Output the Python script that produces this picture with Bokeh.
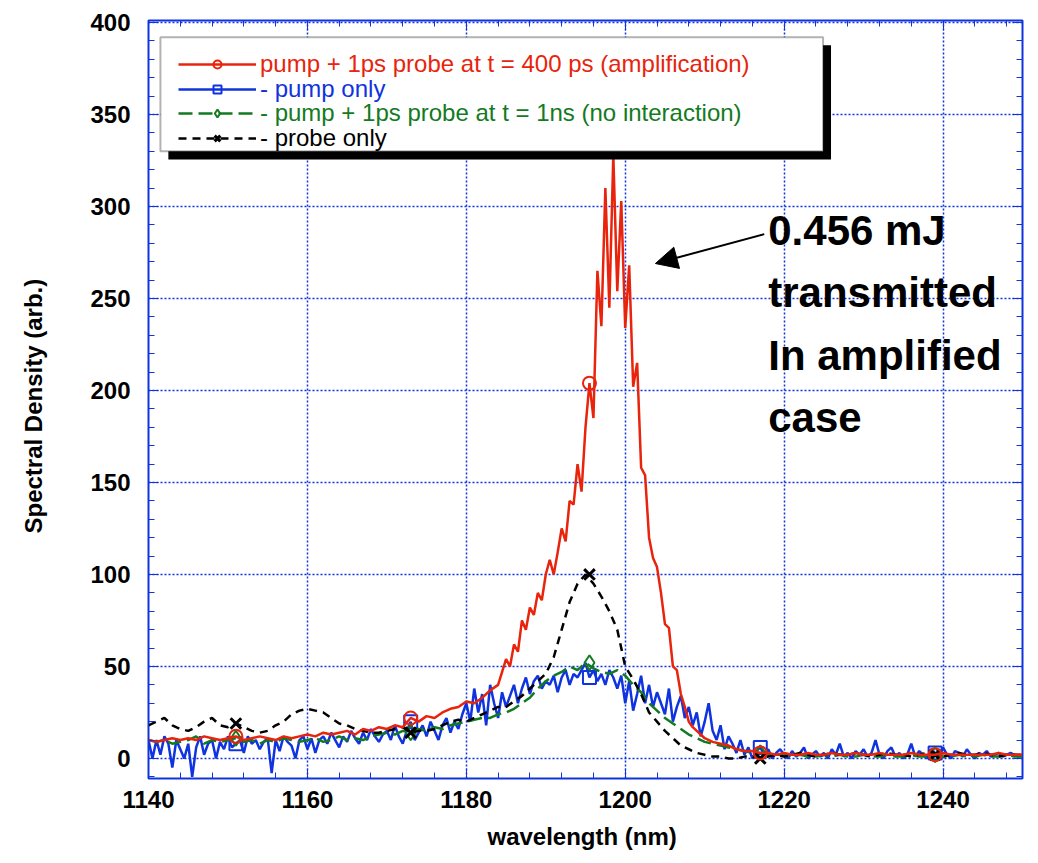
from bokeh.plotting import figure
from bokeh.models import (Range1d, Legend, LegendItem, BoxAnnotation, Label, Arrow,
                          NormalHead, SingleIntervalTicker, LinearAxis)
from bokeh.embed import file_html
from bokeh.resources import INLINE

# ---- data ----
red_x = list(range(1140, 1185)) + [1185 + 0.5 * i for i in range(51)] + list(range(1211, 1251))
red_y = [10, 9, 10, 11, 10, 11, 10, 12, 11, 10,
         11, 12, 10, 11, 12, 11, 10, 12, 11, 12,
         13, 12, 14, 13, 14, 15, 13, 16, 15, 17,
         16, 18, 17, 22, 20, 23, 22, 25, 27, 28,
         31, 30, 33, 37, 40,
         # 1185 .. 1210 step 0.5
         54, 50, 62, 58, 75, 70, 82, 78, 90, 86, 100, 108, 100, 112, 125, 118, 140, 138, 160, 145,
         180, 204, 185, 265, 235, 310, 245, 328, 254, 303, 234, 268, 202, 215, 158, 154, 120, 109, 104, 90,
         73, 71, 50, 48, 35, 28, 20, 17, 15, 13, 11,
         # 1211 .. 1250
         9, 8, 7, 5, 4, 4, 3, 3, 2, 3, 2, 2, 3, 2, 2, 3, 2, 2, 3, 2,
         2, 3, 2, 2, 2, 3, 2, 2, 2, 3, 2, 2, 2, 2, 2, 2, 3, 2, 2, 2]
blue_x = [1140 + 0.5 * i for i in range(221)]
blue_y = [10, 0, 10, 2, 12, 8, -5, 10, 5, 0, 8, -10, 6, 12, 2, 8, 10, 0, 9, 5,
          12, 6, 8, 10, 3, 12, 8, 10, 5, 9, 11, -8, 10, 4, 12, 9, 7, 0, 10, 12,
          5, 11, 3, 10, 12, 8, 14, 10, 6, 12, 9, 15, 11, 8, 14, 10, 16, 12, 9, 13,
          15, 10, 18, 12, 8, 15, 20, 10, 14, 18, 12, 20, 15, 10, 18, 22, 14, 20, 16, 24,
          # 1180 .. 1195
          30, 20, 38, 25, 35, 18, 40, 30, 22, 36, 28, 34, 40, 30, 38, 44, 35, 42, 45, 38,
          42, 40, 45, 36, 44, 48, 40, 46, 44, 48, 52,
          # 1195.5 .. 1210
          44, 48, 42, 46, 40, 48, 44, 38, 45, 30, 42, 26, 35, 45, 30, 40, 28, 36, 30, 24,
          38, 20, 28, 34, 22, 28, 18, 25, 12,
          # 1210.5 .. 1220
          20, 30, 15, 10, 18, 5, 12, 8, 3, 10, 2, 6, 0, 4, 6, 2, 5, 0, 3,
          # 1220.5 .. 1250
          5, 2, 0, 4, 1, 3, 6, 0, 2, 4, 1, 3, 0, 5, 2, 8, 1, 3, 0, 4,
          2, 5, 1, 3, 10, 2, 0, 4, 6, 1, 3, 0, 2, 8, 1, 4, 2, 0, 5, 3,
          1, 6, 2, 0, 4, 3, 1, 5, 2, 0, 3, 2, 4, 1, 2, 3, 1, 2, 3, 2, 1, 2]
green_x = list(range(1140, 1251))
green_y = [10, 9, 10, 8, 9, 10, 12, 8, 10, 9, 10, 11, 9, 10, 8, 10, 9, 11, 10, 9,
           10, 11, 9, 10, 12, 10, 11, 10, 12, 13, 14, 13, 15, 14, 16, 15, 17, 16, 18, 19,
           20, 21, 22, 22, 24, 25, 27, 30, 33, 38, 42, 45, 47, 50, 48, 52, 49, 47, 46, 48,
           45, 40, 36, 30, 26, 22, 19, 16, 13, 11, 9, 8, 7, 6, 5, 4, 3, 3, 2, 2,
           2, 1, 2, 1, 1, 2, 1, 2, 1, 1, 2, 1, 1, 2, 1, 1, 2, 1, 1, 2,
           1, 1, 2, 1, 1, 2, 1, 1, 2, 1, 1]
black_x = list(range(1140, 1251))
black_y = [18, 20, 22, 18, 16, 15, 17, 20, 22, 18, 17, 19, 17, 15, 14, 15, 18, 20, 24, 26,
           27, 26, 25, 22, 19, 18, 16, 15, 14, 14, 15, 16, 17, 14, 15, 15, 16, 18, 20, 21,
           20, 22, 24, 26, 28, 28, 31, 34, 38, 42, 46, 55, 70, 85, 95, 100, 95, 88, 80, 70,
           50, 43, 35, 25, 20, 15, 11, 7, 5, 3, 2, 1, 1, 0, 0, 1, 1, 0, 1, 2,
           1, 2, 3, 2, 1, 2, 3, 2, 2, 3, 2, 1, 2, 3, 2, 2, 1, 2, 3, 2,
           1, 2, 3, 2, 2, 3, 2, 1, 2, 2, 2]
marker_x = [1151, 1173, 1195.5, 1217, 1239]

FONT = "Liberation Sans"
RED, BLUE, GREEN = "#e8240c", "#1033e0", "#137a22"

p = figure(width=1030, height=852, output_backend="svg", toolbar_location=None,
           x_range=Range1d(1140, 1250), y_range=Range1d(-10.9, 401.1),
           min_border_left=148, min_border_right=8, min_border_top=20, min_border_bottom=74)
p.outline_line_color = BLUE
p.outline_line_width = 2

for ax in (p.xaxis[0], p.yaxis[0]):
    ax.axis_line_color = BLUE
    ax.major_tick_line_color = BLUE
    ax.minor_tick_line_color = BLUE
    ax.major_tick_in = 10
    ax.major_tick_out = 0
    ax.minor_tick_in = 6
    ax.minor_tick_out = 0
    ax.major_label_text_font = FONT
    ax.major_label_text_font_style = "bold"
    ax.major_label_text_font_size = "24px"
    ax.major_label_text_color = "black"
    ax.axis_label_text_font = FONT
    ax.axis_label_text_font_style = "bold"
    ax.axis_label_text_font_size = "24px"
    ax.axis_label_text_color = "black"
p.xaxis[0].ticker = SingleIntervalTicker(interval=20, num_minor_ticks=5)
p.yaxis[0].ticker = SingleIntervalTicker(interval=50, num_minor_ticks=5)
p.xaxis.axis_label = "wavelength  (nm)"
p.yaxis.axis_label = "Spectral  Density  (arb.)"
p.yaxis.axis_label_standoff = 40
p.xaxis.axis_label_standoff = 12
p.xaxis.major_label_standoff = 12
p.yaxis.major_label_standoff = 18
p.xgrid.grid_line_color = BLUE
p.ygrid.grid_line_color = BLUE
p.xgrid.grid_line_dash = "2 2"
p.ygrid.grid_line_dash = "2 2"
p.xgrid.grid_line_width = 1.5
p.ygrid.grid_line_width = 1.5
for loc in ("right", "above"):
    a = LinearAxis(major_label_text_font_size="0px", axis_line_color=BLUE,
                   major_tick_line_color=BLUE, minor_tick_line_color=BLUE,
                   major_tick_in=10, major_tick_out=0, minor_tick_in=6, minor_tick_out=0,
                   major_label_standoff=0)
    a.ticker = SingleIntervalTicker(interval=20 if loc == "above" else 50, num_minor_ticks=5)
    p.add_layout(a, loc)


def pick(xs, ys, mx):
    out = []
    for m in mx:
        i = min(range(len(xs)), key=lambda k: abs(xs[k] - m))
        out.append(ys[i])
    return out

lb = p.line(blue_x, blue_y, color=BLUE, line_width=2.5)
mb = p.scatter(marker_x, pick(blue_x, blue_y, marker_x), marker="square", size=13,
               fill_color=None, line_color=BLUE, line_width=2)
lg = p.line(green_x, green_y, color=GREEN, line_width=2.5, line_dash="14 6")
mg = p.scatter(marker_x, pick(green_x, green_y, marker_x), marker="diamond", size=15,
               fill_color=None, line_color=GREEN, line_width=2)
lk = p.line(black_x, black_y, color="black", line_width=2.5, line_dash="8 6")
mk = p.scatter(marker_x, pick(black_x, black_y, marker_x), marker="x", size=15,
               line_color="black", line_width=3)
lr = p.line(red_x, red_y, color=RED, line_width=2.5)
mr = p.scatter(marker_x, pick(red_x, red_y, marker_x), marker="circle", size=13,
               fill_color=None, line_color=RED, line_width=2)

# legend box with shadow (data units)
p.add_layout(BoxAnnotation(left=1142.5, right=1225.9, top=387.7, bottom=325.5,
                           fill_color="black", fill_alpha=1, line_alpha=0))
p.add_layout(BoxAnnotation(left=1141.5, right=1224.9, top=392, bottom=330,
                           fill_color="white", fill_alpha=1, line_color="black", line_width=2))

items = [("pump + 1ps probe at t = 400 ps (amplification)", [lr, mr], RED),
         ("- pump only", [lb, mb], BLUE),
         ("- pump + 1ps probe at t = 1ns (no interaction)", [lg, mg], GREEN),
         ("- probe only", [lk, mk], "black")]
for i, (lab, rs, col) in enumerate(items):
    leg = Legend(items=[LegendItem(label=lab, renderers=rs)],
                 border_line_alpha=0, background_fill_alpha=0, label_text_color=col,
                 label_text_font=FONT, label_text_font_size="24px", glyph_width=78,
                 glyph_height=20, label_height=20, padding=0, margin=0, spacing=0,
                 label_standoff=4)
    leg.location = (30, 700 - 24.5 * i)
    p.add_layout(leg, "center")

# annotation
p.add_layout(Label(x=1218.0, y=300, text="0.456 mJ\ntransmitted\nIn amplified\ncase",
                   text_font=FONT, text_font_style="bold", text_font_size="42px",
                   text_color="black", text_baseline="top", text_line_height=1.33))
p.add_layout(Arrow(x_start=1217.5, y_start=285, x_end=1203.8, y_end=269, line_width=2,
                   end=NormalHead(size=22, fill_color="black", line_color="black")))

open("out.html", "w").write(file_html(p, INLINE))
